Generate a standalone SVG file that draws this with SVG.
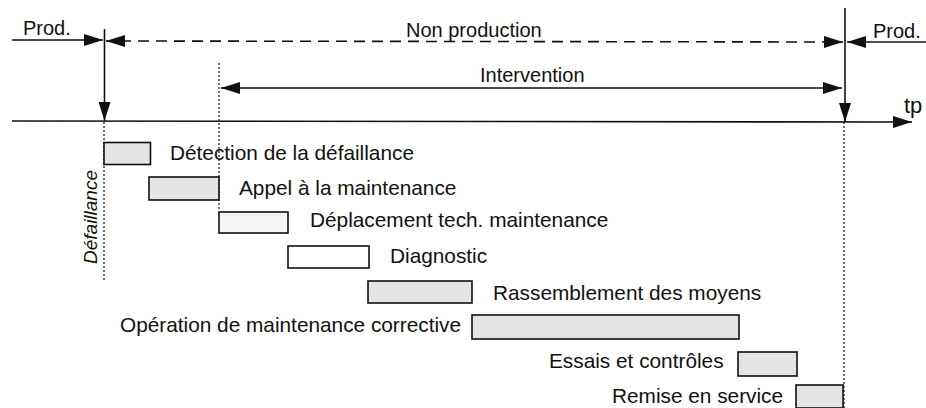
<svg xmlns="http://www.w3.org/2000/svg" width="926" height="408" viewBox="0 0 926 408">
<style>
text{font-family:"Liberation Sans",Arial,sans-serif;font-size:20px;fill:#111}
.t{font-size:20.8px}
.ln{stroke:#111;stroke-width:1.6;fill:none}
.dash{stroke:#111;stroke-width:1.6;fill:none;stroke-dasharray:11 7}
.dot{stroke:#222;stroke-width:1.3;fill:none;stroke-dasharray:2 2}
.bx{stroke:#111;stroke-width:1.6;fill:#e4e4e4}
.bw{stroke:#111;stroke-width:1.6;fill:#fff}
</style>
<defs>
<marker id="ah" markerWidth="20" markerHeight="12" refX="19" refY="6" orient="auto" markerUnits="userSpaceOnUse">
<path d="M0,0 L19,6 L0,12 Z" fill="#111"/>
</marker>
</defs>
<rect width="926" height="408" fill="#fff"/>
<g id="connectors">
<line class="ln" x1="12" y1="40" x2="103" y2="40" marker-end="url(#ah)"/>
<line class="ln" x1="104.5" y1="29" x2="104.5" y2="121" marker-end="url(#ah)"/>
<line class="ln" x1="120" y1="41" x2="106" y2="41" marker-end="url(#ah)"/>
<line class="dash" x1="120" y1="41" x2="832" y2="42"/>
<line class="ln" x1="830" y1="42" x2="843" y2="42" marker-end="url(#ah)"/>
<line class="ln" x1="926" y1="42" x2="847" y2="42" marker-end="url(#ah)"/>
<line class="ln" x1="845" y1="8" x2="845" y2="122" marker-end="url(#ah)"/>
<line class="ln" x1="230" y1="88" x2="221" y2="88" marker-end="url(#ah)"/>
<line class="ln" x1="230" y1="88" x2="842" y2="88" marker-end="url(#ah)"/>
<line class="ln" x1="12" y1="121" x2="912" y2="122" marker-end="url(#ah)"/>
<line class="dot" x1="219" y1="63" x2="219" y2="211"/>
<line class="dot" x1="104" y1="122" x2="104" y2="280"/>
<line class="dot" x1="844" y1="122" x2="844" y2="408"/>
</g>
<g id="labels">
<text x="23" y="35">Prod.</text>
<text x="406" y="37">Non production</text>
<text x="873" y="38">Prod.</text>
<text x="480" y="82">Intervention</text>
<text x="904" y="113" style="font-size:22px">tp</text>
<text transform="translate(97,217) rotate(-90)" text-anchor="middle" style="font-size:19px;font-style:italic">Défaillance</text>
</g>
<g id="n1"><rect class="bx" x="104" y="142.5" width="46.5" height="22"/><text class="t" x="170" y="160">Détection de la défaillance</text></g>
<g id="n2"><rect class="bx" x="149" y="177" width="70" height="23"/><text class="t" x="239" y="195">Appel à la maintenance</text></g>
<g id="n3"><rect class="bx" x="219" y="212" width="69" height="21" style="fill:#f5f5f5"/><text class="t" x="310" y="227">Déplacement tech. maintenance</text></g>
<g id="n4"><rect class="bw" x="288" y="246" width="81" height="22"/><text class="t" x="390" y="263">Diagnostic</text></g>
<g id="n5"><rect class="bx" x="368" y="281" width="104" height="22"/><text class="t" x="493" y="300">Rassemblement des moyens</text></g>
<g id="n6"><rect class="bx" x="472" y="315" width="267" height="24"/><text class="t" x="120" y="332">Opération de maintenance corrective</text></g>
<g id="n7"><rect class="bx" x="738" y="352" width="59" height="24"/><text class="t" x="549" y="368">Essais et contrôles</text></g>
<g id="n8"><rect class="bx" x="796" y="385" width="47" height="23"/><text class="t" x="612" y="403">Remise en service</text></g>
</svg>
